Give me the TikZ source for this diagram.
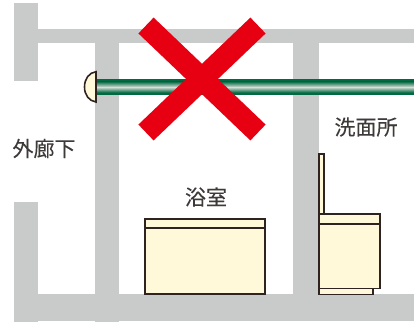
\documentclass[tikz,border=0pt]{standalone}
\usepackage{fontspec}
\newfontfamily\cjk[FakeBold=0.15]{Noto Sans CJK JP}
\definecolor{wall}{HTML}{C9CACA}
\definecolor{cream}{HTML}{FFF9DA}
\definecolor{ink}{HTML}{2E2320}
\definecolor{txt}{HTML}{3E3A39}
\definecolor{pipe}{HTML}{006A42}
\definecolor{pipelight}{HTML}{DADDD8}
\definecolor{crossred}{HTML}{E60012}
\tikzset{
  wallpart/.style={fill=wall,draw=none},
  fixture/.style={fill=cream,draw=ink,line width=1.6pt,line join=miter},
  room/.style={text=txt,font=\cjk\fontsize{21}{21}\selectfont,inner sep=0pt},
  crossbar/.style={draw=crossred,line width=22pt,line cap=butt},
}
\begin{document}
\begin{tikzpicture}[x=1pt,y=-1pt]
\useasboundingbox (0,0) rectangle (414,325);
% walls
\fill[wallpart] (14,3) rectangle (38,81);
\fill[wallpart] (38,29) rectangle (414,43);
\fill[wallpart] (95,43) rectangle (119,322);
\fill[wallpart] (293,43) rectangle (318.7,293.7);
\fill[wallpart] (14,202) rectangle (38,322);
\fill[wallpart] (14,293.7) rectangle (414,321);
% pipe
\fill[pipe] (96,79) rectangle (414,95);
\shade[top color=pipe,bottom color=pipelight] (96,81.5) rectangle (414,87.2);
\shade[top color=pipelight,bottom color=pipe] (96,87) rectangle (414,92.5);
% bracket
\draw[fixture] (96,71.7) .. controls (89,72.5) and (84.5,79) .. (84.5,87) .. controls (84.5,95) and (89,101) .. (96,102) -- cycle;
% cross
\coordinate (xa) at (146,25.5);
\coordinate (xb) at (258,132.5);
\coordinate (xc) at (258,25.5);
\coordinate (xd) at (146,132.5);
\draw[crossbar] (xa) -- (xb);
\draw[crossbar] (xc) -- (xd);
% bathtub
\draw[fixture] (144.7,218.7) rectangle (265,293.7);
\draw[fixture] (144.7,228) -- (265,228);
% washer
\draw[fixture] (318.9,154) rectangle (323.7,213.7);
\draw[fixture] (318.9,288.3) rectangle (373,294.5);
\draw[fixture] (318.9,213.7) rectangle (380,288.3);
\draw[fixture] (318.9,223.7) -- (380,223.7);
% labels
\node[room] (corridor) at (44,148.5) {外廊下};
\node[room] (wash) at (366,127) {洗面所};
\node[room] (bath) at (206,197) {浴室};
\end{tikzpicture}
\end{document}
